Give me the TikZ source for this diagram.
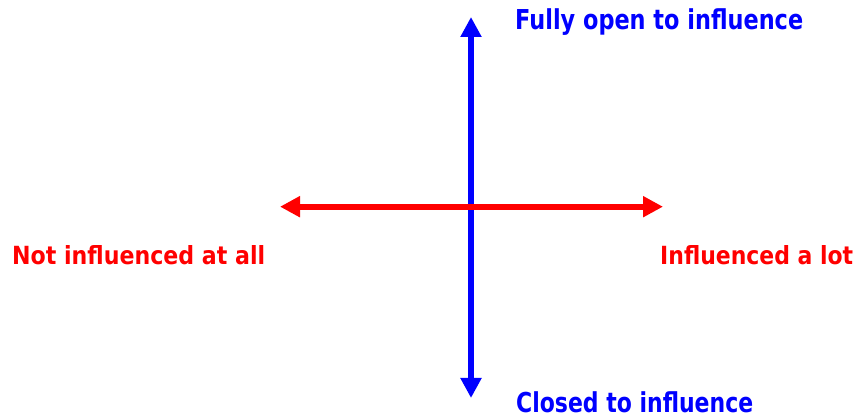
\documentclass[tikz,border=0pt]{standalone}
\usepackage{fontspec}
\setmainfont{DejaVu Sans}
\usetikzlibrary{arrows.meta}
\definecolor{axblue}{RGB}{0,0,255}
\definecolor{axred}{RGB}{255,0,0}
\tikzset{
  axisline/.style={line width=6pt, -{Triangle[length=20pt,width=20pt]}},
  biaxis/.style={line width=6pt, {Triangle[length=20pt,width=20pt]}-{Triangle[length=20pt,width=20pt]}},
  lbl/.style={anchor=base west, inner sep=0pt, font=\bfseries}
}
\newcommand{\fitw}[3]{\resizebox{#1}{\height}{\fontsize{#2}{#2}\selectfont #3}}
\begin{document}
\begin{tikzpicture}[x=1pt,y=1pt]
\useasboundingbox (0,0) rectangle (856,417);
\coordinate (vtop) at (471,400);
\coordinate (vbot) at (471,19);
\coordinate (hleft) at (280,210.3);
\coordinate (hright) at (663,210.3);
\draw[biaxis, draw=axblue, fill=axblue] (vbot) -- (vtop);
\draw[biaxis, draw=axred, fill=axred] (hleft) -- (hright);
\node[lbl, text=axblue] (open) at (515,387) {\fitw{288pt}{27.4pt}{Fully open to influence}};
\node[lbl, text=axblue] (closed) at (516,4) {\fitw{237pt}{27.4pt}{Closed to influence}};
\node[lbl, text=axred] (notinf) at (12,152) {\fitw{253pt}{25pt}{Not influenced at all}};
\node[lbl, text=axred] (alot) at (660,152) {\fitw{193pt}{25pt}{Influenced a lot}};
\end{tikzpicture}
\end{document}
